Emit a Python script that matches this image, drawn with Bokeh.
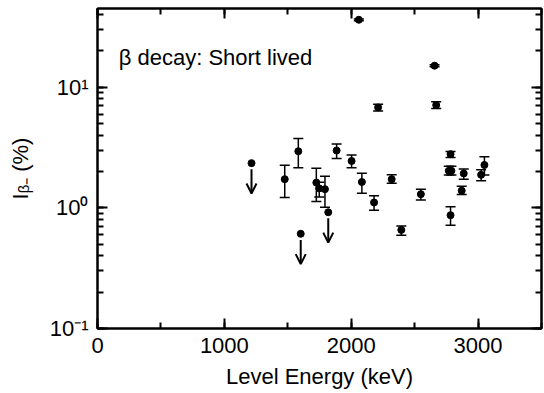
from bokeh.plotting import figure
from bokeh.models import (Label, Whisker, TeeHead, Arrow, OpenHead, ColumnDataSource,
                          LinearAxis, LogAxis, SingleIntervalTicker, LogTicker,
                          CustomJSTickFormatter, Range1d)
from bokeh.embed import file_html
from bokeh.resources import INLINE

# ---- data ----
energy = [1476, 1583, 1725, 1748, 1793, 1885, 2003, 2060, 2084, 2180, 2212, 2319,
          2395, 2549, 2657, 2670, 2769, 2783, 2783, 2790, 2871, 2887, 3024, 3050]
intensity = [1.73, 2.95, 1.62, 1.45, 1.43, 2.99, 2.45, 36.3, 1.64, 1.11, 6.81, 1.73,
             0.657, 1.30, 15.1, 7.12, 2.03, 2.79, 0.87, 2.03, 1.39, 1.93, 1.88, 2.27]
err_hi = [2.26, 3.77, 2.13, 1.63, 1.83, 3.38, 2.75, 36.9, 1.94, 1.26, 7.25, 1.88,
          0.709, 1.43, 15.4, 7.58, 2.21, 2.94, 1.02, 2.21, 1.51, 2.10, 2.07, 2.65]
err_lo = [1.22, 2.15, 1.13, 1.23, 1.01, 2.57, 2.15, 35.7, 1.32, 0.957, 6.35, 1.60,
          0.593, 1.165, 14.8, 6.68, 1.87, 2.62, 0.718, 1.87, 1.29, 1.73, 1.68, 1.87]

limit_energy = [1214, 1602, 1819]
limit_intensity = [2.35, 0.61, 0.92]

x_ticks_interval = 1000
title_text = "β decay: Short lived"
x_label = "Level Energy (keV)"
y_label = "I\u1d66\u208b (%)"

FONT = "Liberation Sans"

p = figure(x_range=Range1d(0, 3500), y_range=Range1d(0.1, 45), y_axis_type="log",
           frame_width=444, frame_height=320, output_backend="svg", toolbar_location=None,
           min_border_left=97, min_border_right=3, min_border_top=8, min_border_bottom=65)
p.grid.visible = False
p.outline_line_color = "black"
p.outline_line_width = 2
p.background_fill_color = "white"
p.border_fill_color = "white"

xticker = SingleIntervalTicker(interval=x_ticks_interval, num_minor_ticks=2)
yticker = LogTicker(num_minor_ticks=10)

def style_axis(ax):
    ax.axis_line_width = 2
    ax.axis_line_color = "black"
    ax.major_tick_in = 10
    ax.major_tick_out = 0
    ax.minor_tick_in = 6
    ax.minor_tick_out = 0
    ax.major_tick_line_width = 2
    ax.minor_tick_line_width = 2
    ax.major_label_text_font = FONT
    ax.major_label_text_font_size = "22px"
    ax.major_label_text_color = "black"

p.xaxis.ticker = xticker
p.yaxis.ticker = yticker
style_axis(p.xaxis[0])
style_axis(p.yaxis[0])
p.xaxis.major_label_standoff = 9
p.yaxis.major_label_standoff = 9
p.yaxis.formatter = CustomJSTickFormatter(code="""
const e = Math.round(Math.log10(tick));
const sup = {"-1": "\u207b\u00b9", "0": "\u2070", "1": "\u00b9"};
return "10" + (sup[String(e)] ?? String(e));
""")
p.xaxis.axis_label = x_label
p.yaxis.axis_label = y_label
for ax in (p.xaxis[0], p.yaxis[0]):
    ax.axis_label_text_font = FONT
    ax.axis_label_text_font_size = "22px"
    ax.axis_label_text_font_style = "normal"
    ax.axis_label_text_color = "black"
p.xaxis.axis_label_standoff = 8
p.yaxis.axis_label_standoff = 14

top = LinearAxis(ticker=xticker)
style_axis(top)
top.major_label_text_font_size = "1px"
top.major_label_text_color = None
top.major_label_standoff = 0
p.add_layout(top, "above")
right = LogAxis(ticker=yticker)
style_axis(right)
right.major_label_text_font_size = "1px"
right.major_label_text_color = None
right.major_label_standoff = 0
p.add_layout(right, "right")

src = ColumnDataSource(dict(x=energy, y=intensity, upper=err_hi, lower=err_lo))
p.add_layout(Whisker(source=src, base="x", upper="upper", lower="lower", dimension="height",
                     line_width=1.5, line_color="black",
                     upper_head=TeeHead(size=10, line_width=1.5, line_color="black"),
                     lower_head=TeeHead(size=10, line_width=1.5, line_color="black")))
p.scatter("x", "y", source=src, size=7, color="black")

lim = ColumnDataSource(dict(x=limit_energy, y=limit_intensity,
                            ys=[v * 0.89 for v in limit_intensity],
                            ye=[v * 0.56 for v in limit_intensity]))
p.scatter("x", "y", source=lim, size=7, color="black")
p.add_layout(Arrow(source=lim, x_start="x", y_start="ys", x_end="x", y_end="ye",
                   line_width=2, line_color="black",
                   end=OpenHead(size=10, line_width=2, line_color="black")))

p.add_layout(Label(x=167, y=17.7, text=title_text, text_font=FONT, text_font_size="22px",
                   text_color="black", text_baseline="alphabetic", text_align="left"))

open("out.html", "w").write(file_html(p, INLINE))
